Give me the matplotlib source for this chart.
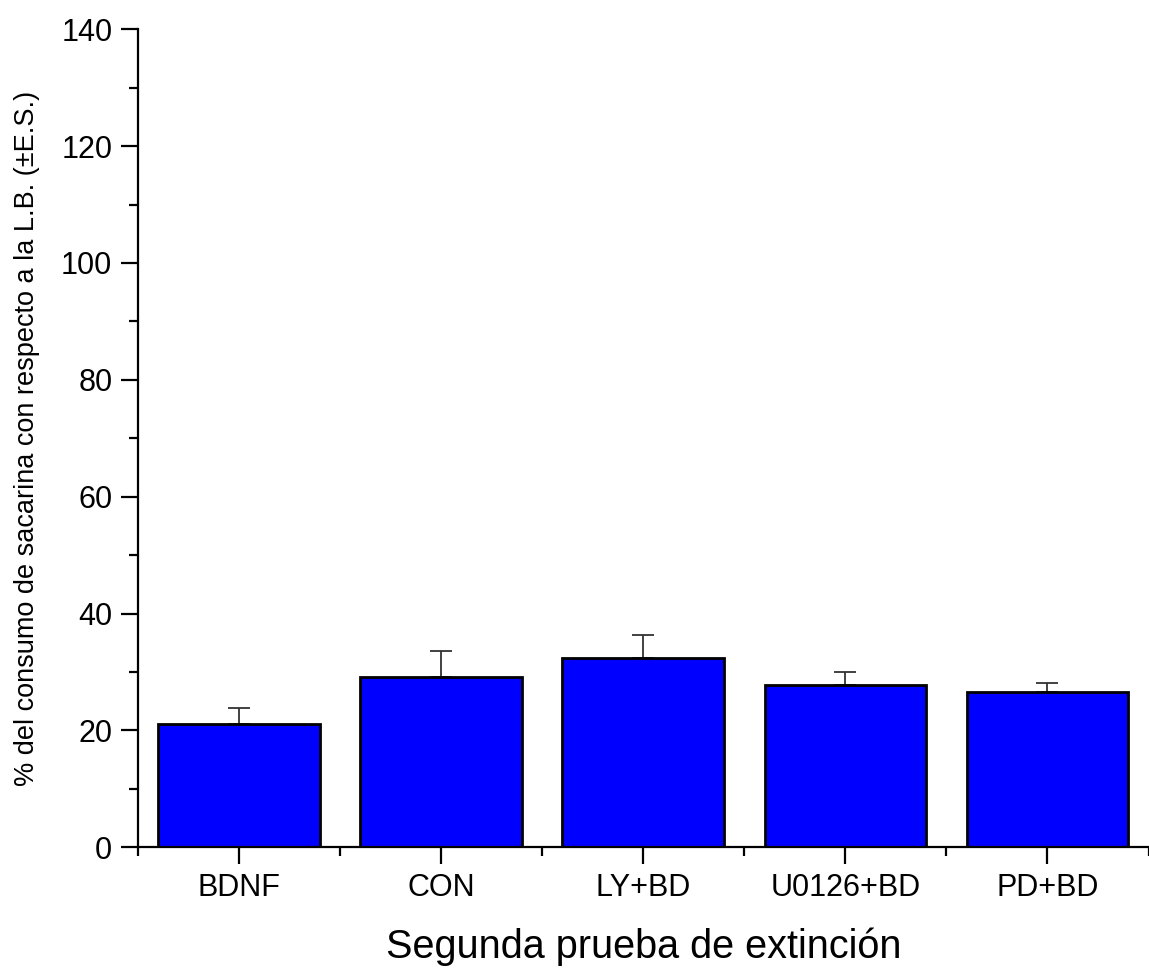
import matplotlib
matplotlib.use("Agg")
import matplotlib.pyplot as plt
import numpy as np
from matplotlib.ticker import MultipleLocator

plt.rcParams["font.family"] = ["Liberation Sans", "DejaVu Sans"]

groups = ["BDNF", "CON", "LY+BD", "U0126+BD", "PD+BD"]
means = [21.15, 29.2, 32.45, 27.7, 26.6]
sem = [2.75, 4.4, 3.85, 2.3, 1.45]

x = np.arange(len(groups))
fig = plt.figure(figsize=(11.49, 9.72), dpi=100)
ax = fig.add_axes([0.1201, 0.1283, 0.8795, 0.8416])

ax.bar(x, means, width=0.8, color="#0000FF", edgecolor="black", linewidth=2, zorder=2)
# upper error only, as in the original figure
ax.errorbar(x, means, yerr=[np.zeros(len(sem)), sem], fmt="none", ecolor="#333333",
            elinewidth=1.3, capsize=8, capthick=1.3, zorder=1)

ax.set_xlim(-0.5, 4.5)
ax.set_ylim(0, 140)
ax.set_xticks(x)
ax.set_xticklabels(groups)
ax.xaxis.set_minor_locator(MultipleLocator(1, offset=0.5))
ax.yaxis.set_major_locator(MultipleLocator(20))
ax.yaxis.set_minor_locator(MultipleLocator(10))

for s in ("top", "right"):
    ax.spines[s].set_visible(False)
for s in ("left", "bottom"):
    ax.spines[s].set_linewidth(1.6)

ax.tick_params(which="major", length=12.5, width=1.6, labelsize=22, pad=6, direction="out")
ax.tick_params(which="minor", length=6.5, width=1.6, direction="out")

ax.set_xlabel("Segunda prueba de extinción", fontsize=28.5, labelpad=18)
ax.set_ylabel("% del consumo de sacarina con respecto a la L.B. (±E.S.)", fontsize=19.5, labelpad=15)

fig.savefig("out.png", dpi=100)
